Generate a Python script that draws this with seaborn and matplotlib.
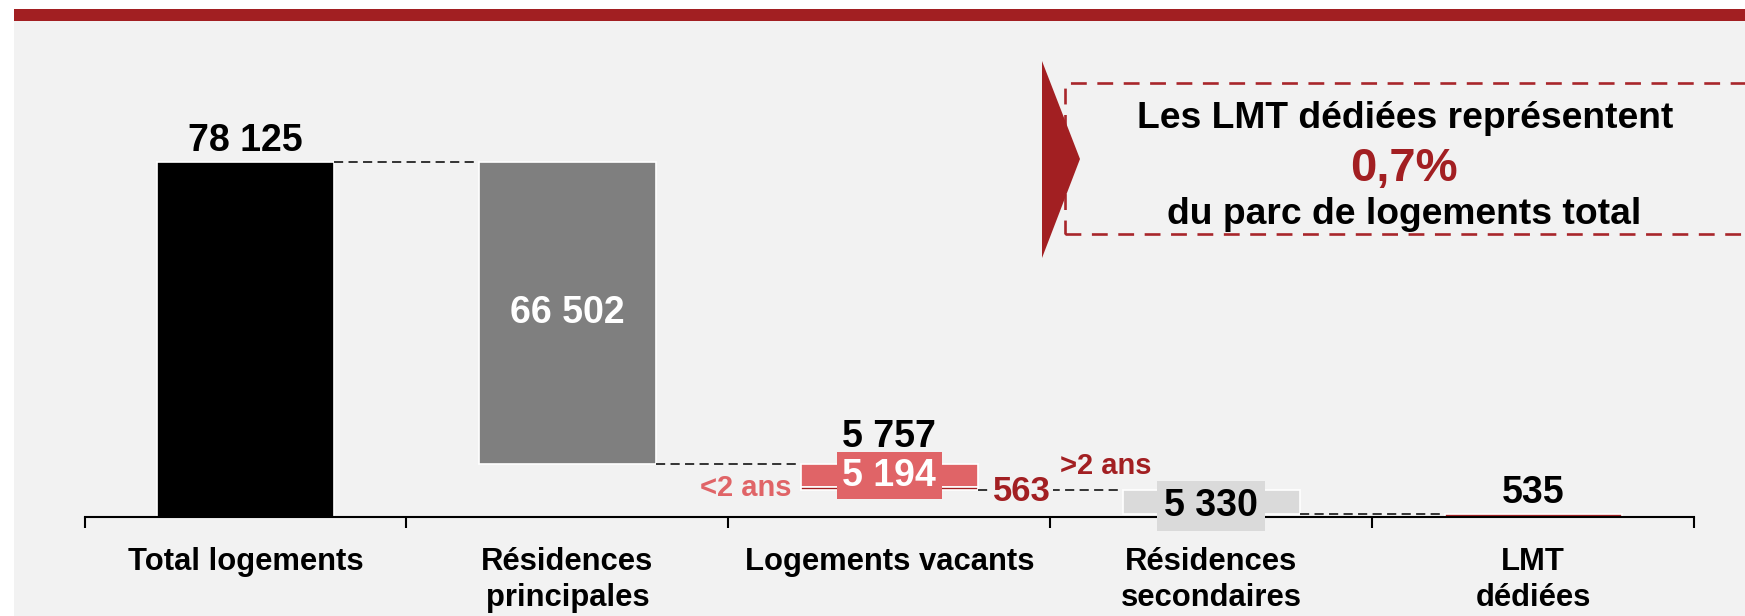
import numpy as np
import pandas as pd
import matplotlib
matplotlib.use("Agg")
import matplotlib.pyplot as plt
from matplotlib.patches import Rectangle, Polygon
import seaborn as sns

# data
categories = ["Total logements", "Résidences\nprincipales", "Logements vacants",
              "Résidences\nsecondaires", "LMT\ndédiées"]
values = [78125, 66502, 5757, 5330, 535]
vacants_split = [5194, 563]
split_names = ["<2 ans", ">2 ans"]
value_labels = ["78 125", "66 502", "5 757", "5 330", "535"]
split_labels = ["5 194", "563"]
callout_lines = ["Les LMT dédiées représentent", "0,7%", "du parc de logements total"]

BG = "#f2f2f2"
DARK_RED = "#a21f22"
RED = "#e06467"
bar_colors = ["#000000", "#7f7f7f", RED, "#dadada", DARK_RED]

W, H = 1745, 616
BAR_W = 0.55


def fx(px):
    return px / W


def fy(py):
    return 1 - py / H


sns.set_style("white")
plt.rcParams['font.family'] = ['Liberation Sans', 'DejaVu Sans']
plt.rcParams['font.weight'] = 'bold'
plt.rcParams['text.color'] = 'black'
plt.rcParams['xtick.color'] = 'black'
plt.rcParams['xtick.labelcolor'] = 'black'

fig = plt.figure(figsize=(W / 100, H / 100), dpi=100, facecolor="white")

# background panel and top band
fig.add_artist(Rectangle((fx(14), 0), 1 - fx(14), fy(21), transform=fig.transFigure,
                         facecolor=BG, edgecolor="none", zorder=0))
fig.add_artist(Rectangle((fx(14), fy(21)), 1 - fx(14), fy(9) - fy(21), transform=fig.transFigure,
                         facecolor=DARK_RED, edgecolor="none", zorder=0))

ax = fig.add_axes([fx(84.6), fy(516.5), fx(1694) - fx(84.6), fy(108.5) - fy(516.5)])
ax.patch.set_alpha(0)

# waterfall bases
principal_base = values[0] - values[1]
vacant_base = principal_base - values[2]
second_base = vacant_base - values[3]

segments = pd.DataFrame({
    "cat": [categories[0], categories[1], categories[2], categories[2], categories[3], categories[4]],
    "height": [values[0], values[1], vacants_split[0], vacants_split[1], values[3], values[4]],
    "bottom": [0, principal_base, vacant_base + vacants_split[1], vacant_base, second_base, 0],
    "color": [bar_colors[0], bar_colors[1], RED, DARK_RED, bar_colors[3], bar_colors[4]],
})

for _, seg in segments.iterrows():
    sns.barplot(x=[seg["cat"]], y=[seg["height"]], order=categories, bottom=seg["bottom"],
                color=seg["color"], saturation=1, width=BAR_W, errorbar=None,
                edgecolor="white", linewidth=1.2, ax=ax)

# dashed connectors
levels = [values[0], principal_base, vacant_base, second_base]
for i, lvl in enumerate(levels):
    ax.plot([i + BAR_W / 2, i + 1 - BAR_W / 2], [lvl, lvl], color="black", lw=1.1,
            linestyle=(0, (6, 3.5)), zorder=1)

ax.set_xlim(-0.5, 4.5)
ax.set_ylim(0, 90000)
ax.set_xlabel("")
ax.set_ylabel("")
ax.set_yticks([])
for s in ["left", "top", "right"]:
    ax.spines[s].set_visible(False)
ax.spines["bottom"].set_color("black")
ax.spines["bottom"].set_linewidth(1.5)

ax.set_xticks(np.arange(-0.5, 5, 1))
ax.set_xticklabels([])
ax.tick_params(axis="x", which="major", bottom=True, length=8, width=1.5, color="black",
               direction="out")
ax.set_xticks(range(5), minor=True)
ax.set_xticklabels(categories, minor=True, fontsize=22.3, fontweight="bold", linespacing=1.27,
                   color="black")
ax.tick_params(axis="x", which="minor", bottom=True, length=0, pad=22)

lbl = dict(fontsize=27, fontweight="bold", ha="center", textcoords="offset points")

ax.annotate(value_labels[0], (0, values[0]), xytext=(0, 8), va="baseline", **lbl)
ax.annotate(value_labels[1], (1, principal_base + values[1] / 2), xytext=(0, 0), va="center",
            color="white", **lbl)
ax.annotate(value_labels[2], (2, principal_base), xytext=(0, 12), va="baseline", **lbl)
ax.annotate(split_labels[0], (2, vacant_base + vacants_split[1] + vacants_split[0] / 2),
            xytext=(0, 0), va="center", color="white", zorder=5,
            bbox=dict(boxstyle="square,pad=0.15", facecolor=RED, edgecolor="none"), **lbl)
ax.annotate(value_labels[3], (3, second_base + values[3] / 2), xytext=(0, -3), va="center", zorder=5,
            bbox=dict(boxstyle="square,pad=0.18", facecolor="#dadada", edgecolor="none"), **lbl)
ax.annotate(value_labels[4], (4, values[4]), xytext=(0, 8), va="baseline", **lbl)

ax.annotate(split_labels[1], (2 + BAR_W / 2, vacant_base), xytext=(11, -1), textcoords="offset points",
            ha="left", va="center", fontsize=25, fontweight="bold", color=DARK_RED, zorder=5,
            bbox=dict(boxstyle="square,pad=0.05", facecolor=BG, edgecolor="none"))
ax.annotate(split_names[0], (2 - BAR_W / 2, vacant_base + vacants_split[1] + vacants_split[0] / 2),
            xytext=(-6.5, -9), textcoords="offset points", ha="right", va="center",
            fontsize=21, fontweight="bold", color=RED)
ax.annotate(split_names[1], (2 + BAR_W / 2, vacant_base), xytext=(59, 17), textcoords="offset points",
            ha="left", va="center", fontsize=21, fontweight="bold", color=DARK_RED)

# callout box
fig.add_artist(Rectangle((fx(1065), fy(233.7)), fx(1765) - fx(1065), fy(83.5) - fy(233.7),
                         transform=fig.transFigure, facecolor="none", edgecolor="#a8262b",
                         lw=1.9, linestyle=(0, (6, 4)), zorder=2))
fig.add_artist(Polygon([(fx(1042), fy(61)), (fx(1080), fy(159)), (fx(1042), fy(258))],
                       closed=True, transform=fig.transFigure, facecolor=DARK_RED,
                       edgecolor="none", zorder=3))
fig.text(fx(1405), fy(118), callout_lines[0], ha="center", va="center", fontsize=26.8,
         fontweight="bold", color="black", zorder=4)
fig.text(fx(1404), fy(169), callout_lines[1], ha="center", va="center", fontsize=34,
         fontweight="bold", color=DARK_RED, zorder=4)
fig.text(fx(1404), fy(215), callout_lines[2], ha="center", va="center", fontsize=26.8,
         fontweight="bold", color="black", zorder=4)

fig.savefig("out.png", dpi=100, facecolor=fig.get_facecolor())
